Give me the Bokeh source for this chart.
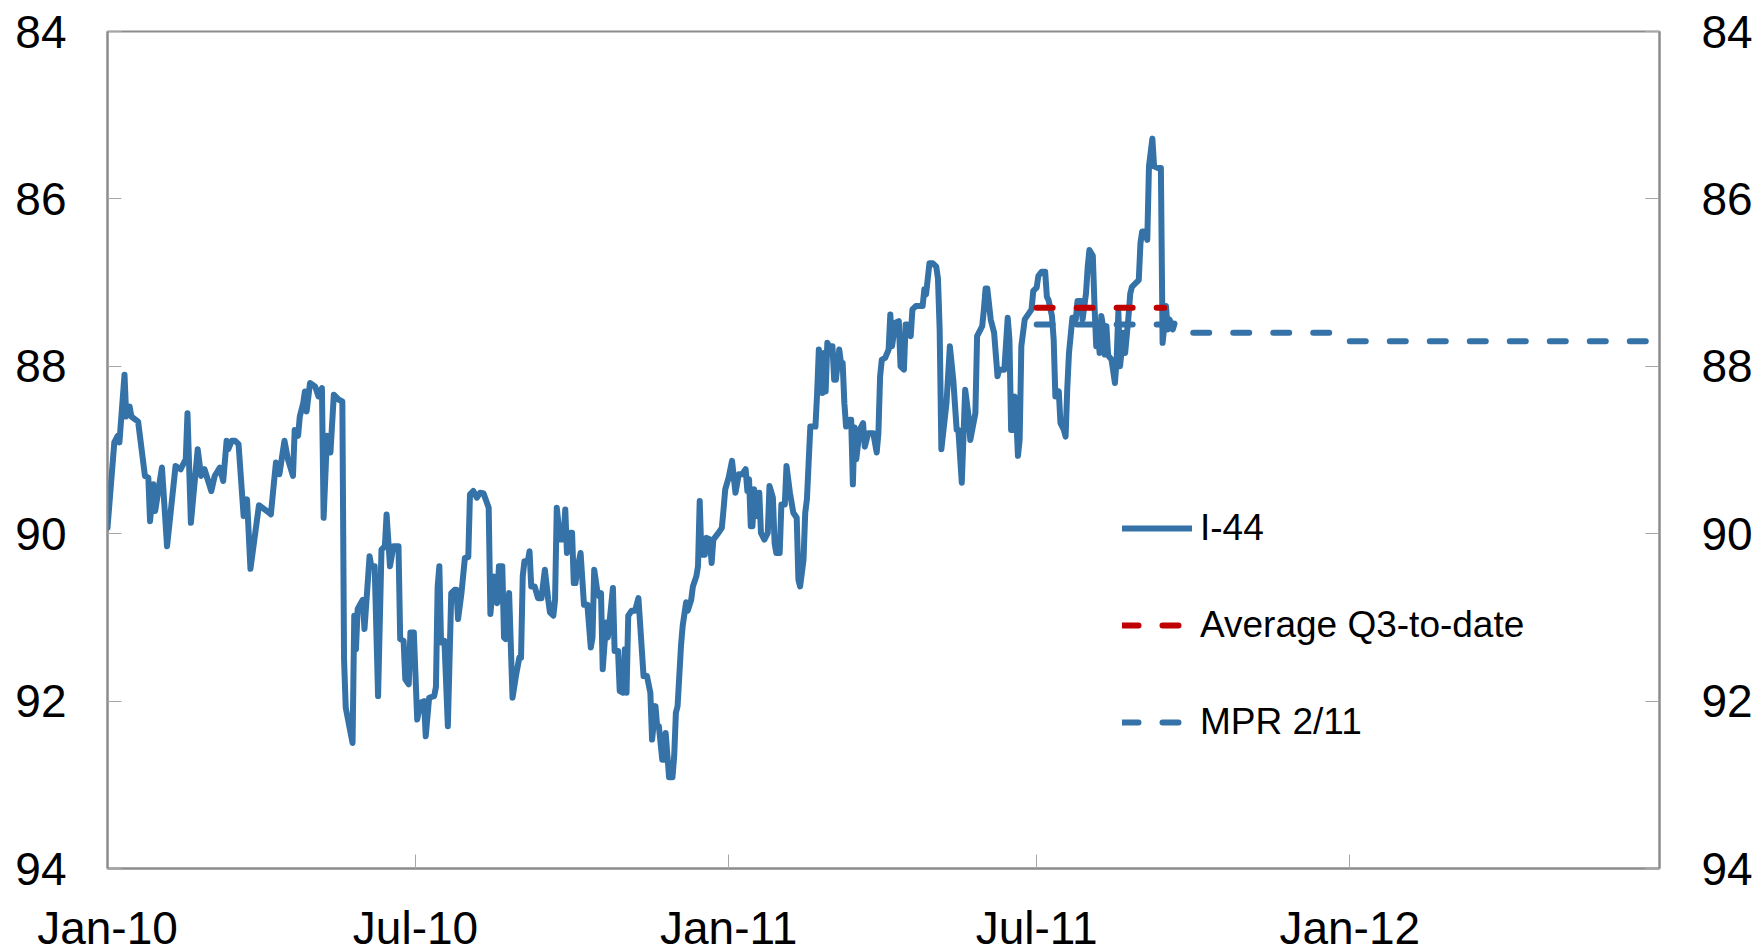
import pandas as pd
from bokeh.plotting import figure
from bokeh.models import (Range1d, LinearAxis, FixedTicker, DatetimeTickFormatter,
                          Legend, LegendItem)
from bokeh.embed import file_html
from bokeh.resources import INLINE

# ---------------- data ----------------
base_date = "2010-01-01"
# I-44 observations: days since 1 Jan 2010 and index level
i44_day = [0, 4, 6, 7, 10, 11, 13, 14, 18, 22, 24, 25, 27, 28, 32, 35, 40, 43, 46, 47, 49, 53, 55, 57, 61, 63,
           66, 68, 70, 71, 73, 75, 77, 80, 82, 84, 89, 95, 96, 98, 99, 101, 104, 106, 109, 110, 112, 113, 115,
           116, 117, 119, 122, 124, 126, 127, 129, 131, 133, 136, 138, 139, 140, 144, 145, 146, 147, 150, 151,
           154, 155, 157, 159, 161, 163, 164, 166, 168, 171, 172, 174, 175, 177, 178, 180, 182, 184, 186, 187,
           189, 192, 193, 194, 195, 196, 198, 200, 202, 204, 205, 206, 208, 210, 212, 213, 215, 217, 219, 221,
           224, 225, 227, 228, 229, 230, 232, 233, 234, 236, 238, 240, 242, 243, 244, 245, 247, 248, 249, 251,
           253, 255, 257, 259, 260, 262, 263, 264, 266, 268, 269, 270, 272, 273, 274, 275, 276, 278, 280, 282,
           284, 285, 286, 288, 289, 290, 291, 293, 294, 295, 297, 298, 300, 301, 303, 304, 305, 306, 308, 310,
           312, 315, 317, 319, 320, 322, 323, 324, 326, 327, 328, 330, 332, 333, 334, 335, 337, 338, 340, 341,
           343, 344, 346, 347, 348, 349, 351, 352, 354, 355, 356, 359, 361, 362, 363, 365, 367, 369, 371, 373,
           375, 376, 377, 378, 379, 380, 382, 383, 384, 386, 388, 389, 391, 392, 393, 395, 396, 398, 399, 401,
           403, 405, 406, 407, 408, 409, 410, 411, 413, 416, 417, 418, 420, 421, 422, 423, 424, 426, 427, 428,
           430, 431, 432, 433, 434, 436, 437, 438, 439, 440, 442, 444, 445, 447, 449, 450, 452, 453, 454, 455,
           457, 459, 460, 461, 463, 465, 466, 468, 469, 470, 472, 473, 475, 479, 480, 481, 483, 485, 487, 488,
           489, 490, 493, 495, 497, 499, 500, 502, 504, 506, 507, 510, 511, 514, 515, 516, 517, 519, 521, 523,
           524, 527, 529, 530, 531, 532, 533, 534, 535, 536, 537, 539, 541, 543, 544, 546, 547, 549, 551, 552,
           553, 555, 556, 557, 559, 560, 562, 563, 564, 565, 567, 569, 570, 572, 573, 575, 576, 577, 579, 580,
           581, 582, 583, 584, 585, 586, 587, 588, 590, 592, 593, 594, 595, 596, 597, 598, 600, 601, 602, 604,
           606, 607, 608, 610, 611, 612, 614, 615, 617, 619, 620, 621, 622, 623, 624, 625, 626, 627]
i44_value = [89.93, 88.91, 88.83, 88.91, 88.10, 88.60, 88.48, 88.60, 88.66, 89.31, 89.33, 89.85, 89.41, 89.73,
             89.21, 90.15, 89.19, 89.23, 89.11, 88.56, 89.87, 88.99, 89.31, 89.23, 89.49, 89.31, 89.21, 89.37,
             88.89, 88.99, 88.89, 88.89, 88.93, 89.79, 89.59, 90.42, 89.66, 89.75, 89.77, 89.35, 89.15, 89.29,
             88.89, 89.11, 89.31, 88.76, 88.83, 88.60, 88.44, 88.30, 88.54, 88.20, 88.24, 88.36, 88.26, 89.81,
             88.83, 89.03, 88.34, 88.40, 88.42, 91.50, 92.08, 92.50, 90.98, 91.38, 90.90, 90.79, 91.14, 90.27,
             90.39, 90.39, 91.94, 90.19, 90.15, 89.77, 90.39, 90.15, 90.15, 91.26, 91.28, 91.74, 91.80, 91.18,
             91.18, 92.22, 92.02, 92.00, 92.42, 91.96, 91.94, 91.83, 90.63, 90.39, 91.30, 91.28, 92.30, 90.71,
             90.67, 90.67, 91.02, 90.71, 90.29, 90.28, 89.53, 89.49, 89.57, 89.51, 89.52, 89.69, 90.96, 90.51,
             90.63, 90.83, 90.39, 90.39, 91.24, 91.26, 90.71, 91.96, 91.70, 91.48, 91.48, 90.51, 90.33, 90.33,
             90.21, 90.63, 90.63, 90.77, 90.77, 90.43, 90.79, 90.94, 90.98, 90.79, 89.69, 90.07, 90.07, 89.71,
             90.23, 89.99, 89.99, 90.59, 90.59, 90.43, 90.23, 90.85, 90.85, 91.36, 91.24, 90.43, 90.71, 90.75,
             90.71, 91.62, 91.06, 91.24, 91.06, 90.65, 91.40, 91.40, 91.88, 91.90, 91.38, 91.90, 90.98, 90.92,
             90.92, 90.77, 91.70, 91.70, 91.90, 92.46, 92.06, 92.30, 92.30, 92.70, 92.70, 92.38, 92.91, 92.91,
             92.66, 92.14, 92.06, 91.34, 91.10, 90.82, 90.92, 90.79, 90.63, 90.51, 90.39, 89.61, 90.25, 90.25,
             90.05, 90.07, 90.35, 90.07, 89.99, 89.93, 89.71, 89.47, 89.33, 89.13, 89.51, 89.29, 89.29, 89.23,
             89.49, 89.35, 89.91, 89.91, 89.47, 89.79, 89.51, 89.99, 90.07, 89.99, 89.43, 89.57, 90.11, 90.23,
             90.23, 89.65, 89.65, 89.19, 89.51, 89.75, 89.81, 90.55, 90.63, 90.47, 90.31, 89.75, 89.59, 88.72,
             88.72, 88.32, 87.80, 88.32, 87.84, 88.30, 87.72, 87.76, 87.76, 88.16, 88.16, 87.80, 87.96, 87.96,
             88.44, 88.72, 88.64, 88.64, 89.41, 88.73, 89.11, 88.76, 88.68, 88.96, 88.80, 88.80, 88.80, 89.03,
             88.80, 88.12, 87.92, 87.90, 87.80, 87.38, 87.76, 87.48, 87.46, 88.00, 88.04, 87.50, 87.50, 87.64,
             87.32, 87.28, 87.28, 87.08, 87.14, 86.77, 86.77, 86.81, 86.95, 87.56, 88.99, 88.44, 87.76, 88.16,
             88.76, 88.76, 89.39, 88.28, 88.60, 88.88, 88.56, 87.64, 87.52, 87.32, 87.07, 87.07, 87.44, 87.60,
             88.12, 88.04, 88.04, 87.42, 87.68, 88.76, 88.76, 88.36, 88.60, 89.07, 88.88, 87.76, 87.44, 87.38,
             87.32, 87.10, 87.06, 86.92, 86.87, 86.87, 87.17, 87.21, 87.40, 87.68, 88.36, 88.30, 88.68, 88.76,
             88.84, 88.26, 87.84, 87.42, 87.44, 87.22, 87.22, 87.44, 87.13, 86.81, 86.61, 86.68, 87.28, 87.76,
             87.60, 87.84, 87.40, 87.52, 87.86, 87.52, 87.87, 87.92, 88.20, 87.92, 87.35, 88.00, 87.80, 87.60,
             87.84, 87.40, 87.13, 87.05, 87.01, 86.97, 86.53, 86.39, 86.39, 86.49, 85.61, 85.28, 85.61, 85.63,
             85.63, 87.72, 87.52, 87.28, 87.56, 87.44, 87.48, 87.56, 87.49]

avg_dates = ["2011-07-01", "2011-09-14"]
avg_values = [87.3, 87.3]

# MPR 2/11 projection: quarter start dates, end of projection, quarterly levels
mpr_quarter_start = ["2011-07-01", "2011-10-01", "2012-01-01"]
mpr_end = "2012-07-01"
mpr_values = [87.5, 87.6, 87.7]

x_tick_dates = ["2010-01-01", "2010-07-01", "2011-01-01", "2011-07-01", "2012-01-01"]
y_ticks = [84, 86, 88, 90, 92, 94]

# ---------------- build ----------------
i44_dates = pd.Timestamp(base_date) + pd.to_timedelta(i44_day, unit="D")
avg_x = pd.to_datetime(avg_dates)
q_edges = list(pd.to_datetime(mpr_quarter_start)) + [pd.Timestamp(mpr_end)]
mpr_xs = [[q_edges[i], q_edges[i + 1]] for i in range(len(mpr_values))]
mpr_ys = [[v, v] for v in mpr_values]
tick_ms = [int(pd.Timestamp(d).value // 10**6) for d in x_tick_dates]

BLUE = "#3572A8"
RED = "#C00000"
AXIS = "#8c8c8c"
TICK = "#a6a6a6"
FONT = "Liberation Sans"

p = figure(width=1758, height=956, output_backend="svg", toolbar_location=None,
           x_axis_type="datetime",
           x_range=Range1d(pd.Timestamp("2010-01-01"), pd.Timestamp("2012-07-01")),
           y_range=Range1d(94, 84),
           min_border_left=107, min_border_right=99, min_border_top=31, min_border_bottom=86)
p.background_fill_color = "white"
p.border_fill_color = "white"
p.outline_line_color = AXIS
p.outline_line_width = 2
p.xgrid.visible = False
p.ygrid.visible = False

fmt = "%b-%y"
p.xaxis.ticker = FixedTicker(ticks=tick_ms)
p.xaxis.formatter = DatetimeTickFormatter(microseconds=fmt, milliseconds=fmt, seconds=fmt, minsec=fmt,
                                          minutes=fmt, hourmin=fmt, hours=fmt, days=fmt, months=fmt, years=fmt)
p.yaxis.ticker = FixedTicker(ticks=y_ticks)

right_axis = LinearAxis(ticker=FixedTicker(ticks=y_ticks))
p.add_layout(right_axis, "right")

for ax in [p.xaxis[0], p.yaxis[0], right_axis]:
    ax.axis_line_color = AXIS
    ax.axis_line_width = 2
    ax.major_tick_line_color = TICK
    ax.major_tick_line_width = 1
    ax.major_tick_in = 14
    ax.major_tick_out = 0
    ax.minor_tick_line_color = None
    ax.major_label_text_font = FONT
    ax.major_label_text_font_size = "46px"
    ax.major_label_text_color = "black"
p.xaxis.major_label_standoff = 33
p.yaxis.major_label_standoff = 41
right_axis.major_label_standoff = 42

r_i44 = p.line(i44_dates, i44_value, line_color=BLUE, line_width=6, line_join="round", line_cap="round")
r_mpr = p.multi_line(mpr_xs, mpr_ys, line_color=BLUE, line_width=6,
                     line_dash="16 24", line_cap="round")
r_avg = p.line(avg_x, avg_values, line_color=RED, line_width=6, line_dash="16 24", line_cap="round")

legend = Legend(items=[LegendItem(label="I-44", renderers=[r_i44]),
                       LegendItem(label="Average Q3-to-date", renderers=[r_avg]),
                       LegendItem(label="MPR 2/11", renderers=[r_mpr])],
                location=(1015, 125), orientation="vertical",
                glyph_width=70, glyph_height=42, label_height=42, label_width=10,
                spacing=55, label_standoff=8, padding=0, margin=0,
                border_line_color=None, background_fill_alpha=0,
                label_text_font=FONT, label_text_font_size="37px", label_text_color="black")
p.add_layout(legend, "center")

html = file_html(p, INLINE)
html = html.replace("<head>", "<head><style>html,body{overflow:hidden;}</style>", 1)
open("out.html", "w").write(html)
